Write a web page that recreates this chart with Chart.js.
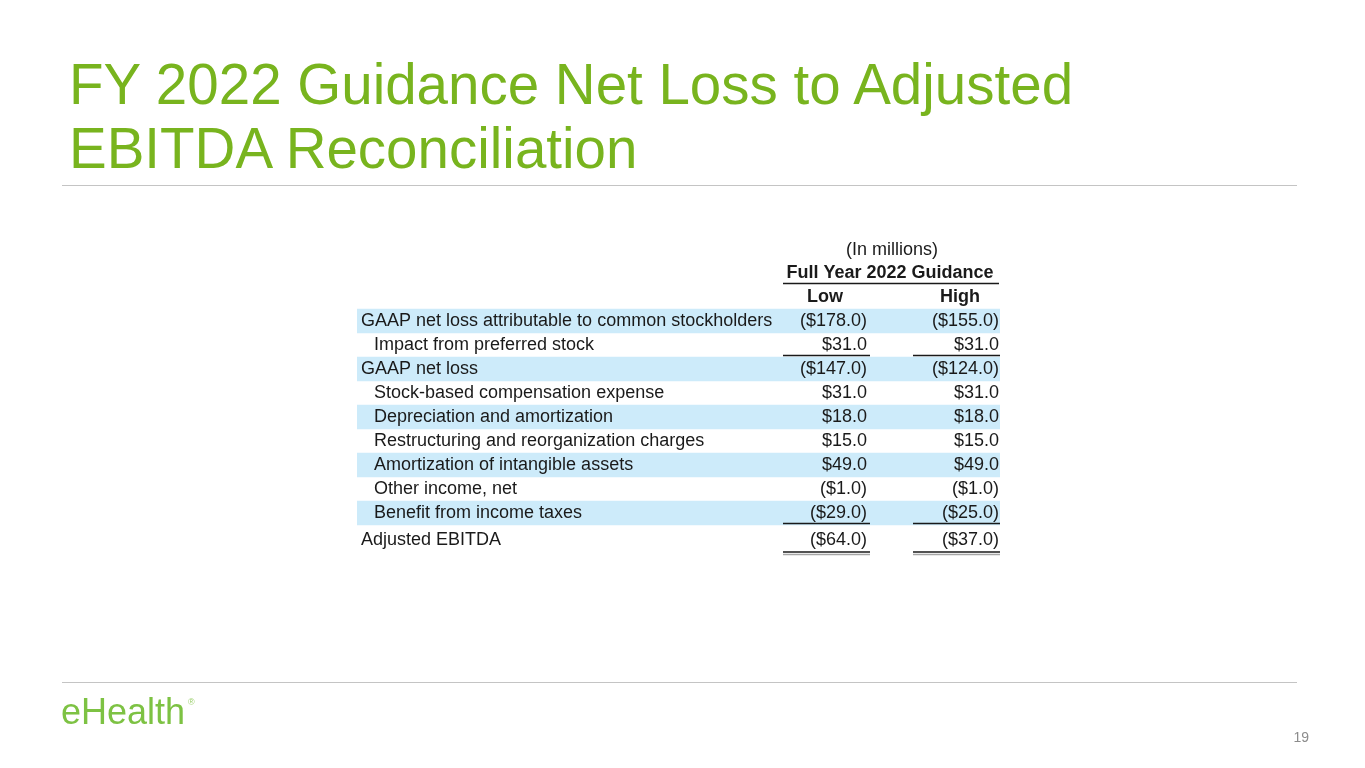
<!DOCTYPE html>
<html>
<head>
<meta charset="utf-8">
<title>FY 2022 Guidance Net Loss to Adjusted EBITDA Reconciliation</title>
<script src="https://cdn.jsdelivr.net/npm/chart.js@4.4.1/dist/chart.umd.min.js"></script>
<style>
  html, body { margin: 0; padding: 0; background: #fff; }
  body { width: 1365px; height: 768px; position: relative; overflow: hidden;
         font-family: "Liberation Sans", Arial, sans-serif; }
  #title { position: absolute; left: 69px; top: 53px; margin: 0;
           font-size: 56.5px; line-height: 64px; font-weight: normal; color: #78B41E; }
  .rule { position: absolute; left: 62px; width: 1235px; height: 1px; background: #c4c4c4; }
  #logo { position: absolute; left: 61px; top: 694px; font-size: 36px; line-height: 36px;
          color: #7DC243; }
  #logo sup { font-size: 9px; vertical-align: top; position: relative; top: -10px; left: 3px; color: #9ccf6e; }
  #page { position: absolute; right: 56px; top: 730px; font-size: 14px; line-height: 14px; color: #8c8c8c; }
  #wrap { position: absolute; left: 0; top: 0; width: 1365px; height: 768px; }
</style>
</head>
<body>
<h1 id="title">FY 2022 Guidance Net Loss to Adjusted<br>EBITDA Reconciliation</h1>
<div class="rule" style="top:185px"></div>
<div id="wrap"><canvas id="recon" width="1365" height="768"></canvas></div>
<div class="rule" style="top:682px"></div>
<div id="logo">eHealth<sup>®</sup></div>
<div id="page">19</div>

<script>
// table data (in millions)
const headerUnits = '(In millions)';
const headerPeriod = 'Full Year 2022 Guidance';
const columns = ['Low', 'High'];

const categories = [
  'GAAP net loss attributable to common stockholders',
  'Impact from preferred stock',
  'GAAP net loss',
  'Stock-based compensation expense',
  'Depreciation and amortization',
  'Restructuring and reorganization charges',
  'Amortization of intangible assets',
  'Other income, net',
  'Benefit from income taxes',
  'Adjusted EBITDA'
];
const lowValues  = [-178.0, 31.0, -147.0, 31.0, 18.0, 15.0, 49.0, -1.0, -29.0, -64.0];
const highValues = [-155.0, 31.0, -124.0, 31.0, 18.0, 15.0, 49.0, -1.0, -25.0, -37.0];

// which rows are sub-items (indented), shaded, underlined
const indented  = [false, true, false, true, true, true, true, true, true, false];
const shaded    = [true, false, true, false, true, false, true, false, true, false];
const underline = ['', 'single', '', '', '', '', '', '', 'single', 'double'];

// layout (table units = px from the table's left edge)
const TABLE_W = 643;
const HEADER_ROWS = 3;
const COL = {
  label: 4, indent: 17,
  lowRight: 510, highRight: 642,
  lowLine: [426, 513], highLine: [556, 643],
  periodLine: [426, 642], periodCenter: 533,
  unitsCenter: 535, lowCenter: 468, highCenter: 603
};
const FONT = '"Liberation Sans", Arial, sans-serif';
const INK = '#1a1a1a';

const fmt = v => v < 0 ? '($' + Math.abs(v).toFixed(1) + ')' : '$' + v.toFixed(1);

const rowKeys = ['h0', 'h1', 'h2'].concat(categories.map((c, i) => 'r' + i));
const bandData = rowKeys.map((k, i) => {
  const r = i - HEADER_ROWS;
  return (r >= 0 && shaded[r]) ? [0, TABLE_W] : null;
});

const tableText = {
  id: 'tableText',
  afterDatasetsDraw(chart) {
    const { ctx, scales: { x, y } } = chart;
    const rowH = Math.abs(y.getPixelForValue(1) - y.getPixelForValue(0));
    ctx.save();
    ctx.fillStyle = INK;
    ctx.textBaseline = 'middle';

    // headers
    ctx.textAlign = 'center';
    ctx.font = '18px ' + FONT;
    ctx.fillText(headerUnits, x.getPixelForValue(COL.unitsCenter), y.getPixelForValue(0) + 1);
    ctx.font = 'bold 18px ' + FONT;
    ctx.fillText(headerPeriod, x.getPixelForValue(COL.periodCenter), y.getPixelForValue(1));
    ctx.fillText(columns[0], x.getPixelForValue(COL.lowCenter), y.getPixelForValue(2));
    ctx.fillText(columns[1], x.getPixelForValue(COL.highCenter), y.getPixelForValue(2));

    ctx.strokeStyle = INK;
    ctx.lineWidth = 1.5;
    const hl = Math.round(y.getPixelForValue(1) + rowH / 2) - 1.5;
    ctx.beginPath();
    ctx.moveTo(x.getPixelForValue(COL.periodLine[0]), hl);
    ctx.lineTo(x.getPixelForValue(COL.periodLine[1]), hl);
    ctx.stroke();

    // rows
    ctx.font = '18px ' + FONT;
    categories.forEach((label, r) => {
      const last = r === categories.length - 1;
      const cy = y.getPixelForValue(r + HEADER_ROWS) + (last ? 3 : 0);
      ctx.textAlign = 'left';
      ctx.fillText(label, x.getPixelForValue(indented[r] ? COL.indent : COL.label), cy);
      ctx.textAlign = 'right';
      ctx.fillText(fmt(lowValues[r]), x.getPixelForValue(COL.lowRight), cy);
      ctx.fillText(fmt(highValues[r]), x.getPixelForValue(COL.highRight), cy);

      if (underline[r]) {
        const ly = last ? cy + 12 : y.getPixelForValue(r + HEADER_ROWS) + rowH / 2 - 1.5;
        [COL.lowLine, COL.highLine].forEach(seg => {
          ctx.strokeStyle = INK;
          ctx.lineWidth = 1.5;
          ctx.beginPath();
          ctx.moveTo(x.getPixelForValue(seg[0]), ly);
          ctx.lineTo(x.getPixelForValue(seg[1]), ly);
          ctx.stroke();
          if (underline[r] === 'double') {
            ctx.strokeStyle = '#a6a6a6';
            ctx.beginPath();
            ctx.moveTo(x.getPixelForValue(seg[0]), ly + 2.5);
            ctx.lineTo(x.getPixelForValue(seg[1]), ly + 2.5);
            ctx.stroke();
          }
        });
      }
    });
    ctx.restore();
  }
};

new Chart(document.getElementById('recon'), {
  type: 'bar',
  data: {
    labels: rowKeys,
    datasets: [{
      data: bandData,
      backgroundColor: '#CDEBFA',
      borderWidth: 0,
      barPercentage: 1,
      categoryPercentage: 1
    }]
  },
  options: {
    indexAxis: 'y',
    responsive: false,
    animation: false,
    events: [],
    layout: { padding: { left: 357, right: 365, top: 237, bottom: 219 } },
    scales: {
      x: { type: 'linear', min: 0, max: TABLE_W, display: false },
      y: { type: 'category', display: false, offset: true }
    },
    plugins: {
      legend: { display: false },
      tooltip: { enabled: false },
      title: { display: false }
    }
  },
  plugins: [tableText]
});
</script>
</body>
</html>
